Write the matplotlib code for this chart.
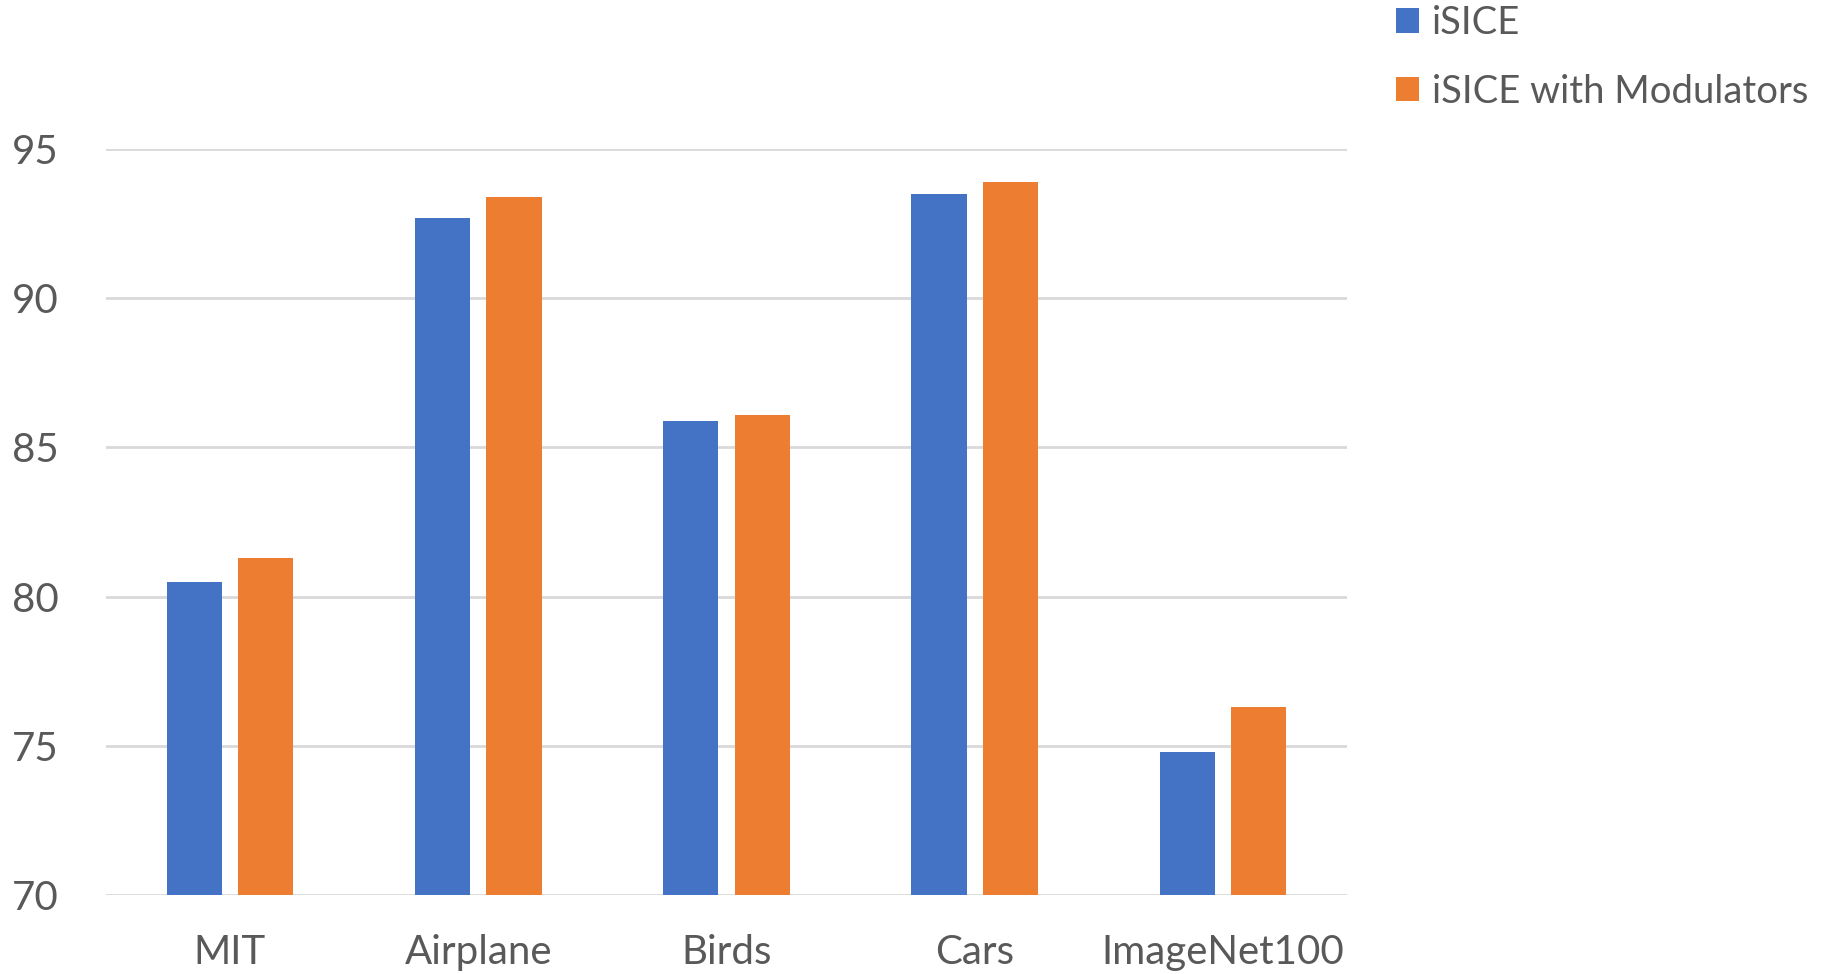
import matplotlib
matplotlib.use("Agg")
import matplotlib.pyplot as plt
import numpy as np

categories = ["MIT", "Airplane", "Birds", "Cars", "ImageNet100"]
isice = [80.5, 92.7, 85.9, 93.5, 74.8]
isice_mod = [81.3, 93.4, 86.1, 93.9, 76.3]
series_names = ["iSICE", "iSICE with Modulators"]
y_ticks = [70, 75, 80, 85, 90, 95]

BLUE = "#4472C4"
ORANGE = "#ED7D31"
TEXT = "#595959"
GRID = "#D9D9D9"

plt.rcParams["font.family"] = ["Lato", "DejaVu Sans"]

fig = plt.figure(figsize=(18.42, 9.74), dpi=100)
ax = fig.add_axes([0.0574, 0.0811, 0.674, 0.7658])

x = np.arange(len(categories))
width = 0.222
offset = 0.144
b1 = ax.bar(x - offset, isice, width, color=BLUE, label=series_names[0], zorder=3)
b2 = ax.bar(x + offset, isice_mod, width, color=ORANGE, label=series_names[1], zorder=3)

ax.set_xlim(-0.5, len(categories) - 0.5)
ax.set_ylim(y_ticks[0], y_ticks[-1])
ax.set_yticks(y_ticks)
ax.set_xticks(x)
ax.set_xticklabels(categories)

for s in ax.spines.values():
    s.set_visible(False)
ax.yaxis.grid(True, color=GRID, linewidth=2, zorder=0)
ax.set_axisbelow(True)
ax.tick_params(axis="both", length=0, labelsize=29, colors=TEXT)
ax.tick_params(axis="y", pad=34)
ax.tick_params(axis="x", pad=28)

fig.legend(handles=[b1, b2], labels=series_names, loc="upper left",
           bbox_to_anchor=(0.739, 1.030), frameon=False, fontsize=27.5,
           labelcolor=TEXT, handlelength=0.61, handleheight=0.61,
           handletextpad=0.35, labelspacing=0.85)

fig.savefig("out.png", dpi=100, facecolor="white")
